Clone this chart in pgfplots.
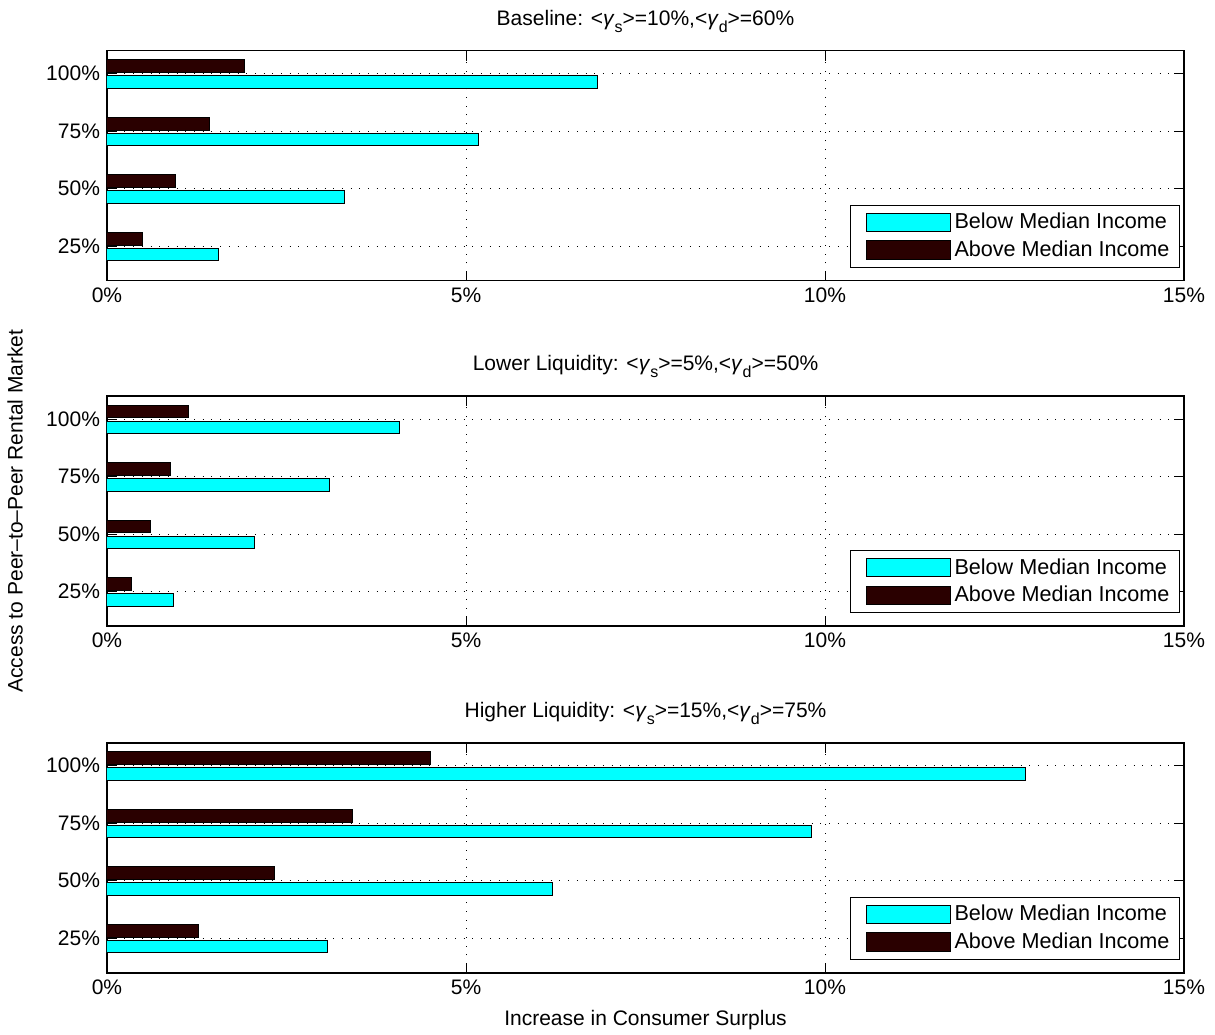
\documentclass[border=0pt]{standalone}
\usepackage{fontspec}
\setmainfont{Liberation Sans}
\usepackage{pgfplots}
\pgfplotsset{compat=1.18}
\definecolor{barcyan}{RGB}{0,255,255}
\definecolor{bardark}{RGB}{42,0,0}
\newcommand{\fs}{\fontsize{10.5}{12.6}\selectfont}
\newcommand{\lfs}{\fontsize{10.8}{12.6}\selectfont}
\newcommand{\sub}[1]{\raisebox{-0.65ex}{\fontsize{8}{8}\selectfont #1}}
\newcommand{\g}{\textit{γ}}
\pgfplotsset{
  panel/.style={
    scale only axis, width=538.5pt, height=115pt,
    anchor=south west,
    xbar, xmin=0, xmax=15, ymin=0.4, ymax=4.4,
    xtick={0,5,10,15}, xticklabels={0\%,5\%,10\%,15\%},
    ytick={1,2,3,4}, yticklabels={25\%,50\%,75\%,100\%},
    tick align=inside, major tick length=5pt,
    grid=major,
    grid style={black, line width=0.5pt, dash pattern=on 0.5pt off 3.85pt},
    axis line style={line width=0.8pt},
    tick style={black, line width=0.5pt},
    bar width=0.22,
    font=\fs,
    tick label style={font=\fs},
    every axis title/.style={at={(rel axis cs:0.5,1)}, anchor=base, yshift=12.8pt, font=\fs},
    legend style={at={(rel axis cs:0.9963,0.055)}, anchor=south east, draw=black,
      line width=0.6pt, font=\lfs, cells={anchor=west}, inner xsep=3pt, inner ysep=2pt,
      row sep=0.5pt},
    legend image code/.code={\path (0pt,0pt);\draw[#1,line width=0.5pt] (4.5pt,-4.6pt) rectangle (46.5pt,4.6pt);},
  },
  below/.style={fill=barcyan, draw=black, line width=0.5pt, bar shift=-0.145},
  above/.style={fill=bardark, draw=black, line width=0.5pt, bar shift=0.13},
}
\begin{document}
\begin{tikzpicture}
% Panel 1: Baseline
\begin{axis}[panel, at={(0pt,346pt)},
  title={Baseline: <\g\sub{s}>=10\%,<\g\sub{d}>=60\%}]
\addplot[below] coordinates {(1.55,1) (3.31,2) (5.18,3) (6.83,4)};
\addplot[above] coordinates {(0.50,1) (0.95,2) (1.43,3) (1.92,4)};
\legend{Below Median Income, Above Median Income}
\end{axis}
% Panel 2: Lower liquidity
\begin{axis}[panel, at={(0pt,173.35pt)},
  title={Lower Liquidity: <\g\sub{s}>=5\%,<\g\sub{d}>=50\%},
  ylabel={Access to Peer--to--Peer Rental Market},
  every axis y label/.style={at={(rel axis cs:0,0.5)}, xshift=-46pt, rotate=90, anchor=center, font=\fs}]
\addplot[below] coordinates {(0.92,1) (2.06,2) (3.10,3) (4.07,4)};
\addplot[above] coordinates {(0.34,1) (0.61,2) (0.89,3) (1.14,4)};
\legend{Below Median Income, Above Median Income}
\end{axis}
% Panel 3: Higher liquidity
\begin{axis}[panel, at={(0pt,0pt)},
  title={Higher Liquidity: <\g\sub{s}>=15\%,<\g\sub{d}>=75\%},
  xlabel={Increase in Consumer Surplus},
  every axis x label/.style={at={(rel axis cs:0.5,0)}, yshift=-23.7pt, anchor=center, font=\fs}]
\addplot[below] coordinates {(3.07,1) (6.21,2) (9.81,3) (12.79,4)};
\addplot[above] coordinates {(1.27,1) (2.33,2) (3.42,3) (4.51,4)};
\legend{Below Median Income, Above Median Income}
\end{axis}
\pgfresetboundingbox
\path (-53.5pt,-30.65pt) rectangle (554pt,486.35pt);
\end{tikzpicture}
\end{document}
